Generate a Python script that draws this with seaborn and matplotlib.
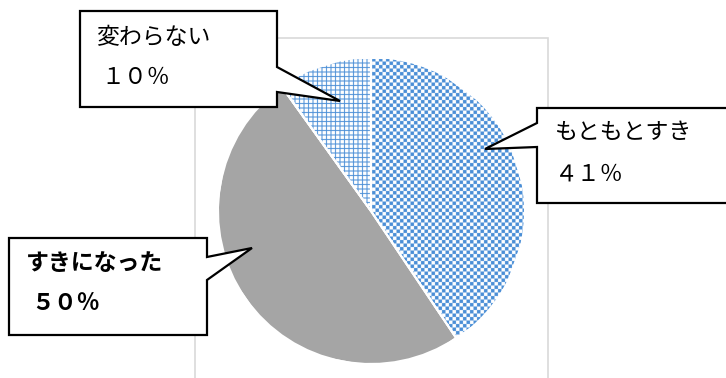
import matplotlib
matplotlib.use("Agg")
import matplotlib.pyplot as plt
from matplotlib.patches import Rectangle, Polygon
import numpy as np
import seaborn as sns

sns.set_theme(style="white")
plt.rcParams["font.family"] = ["Noto Sans CJK JP", "DejaVu Sans"]

# data
categories = ["もともとすき", "すきになった", "変わらない"]
values = [41, 50, 10]
pct_labels = ["４１％", "５０％", "１０％"]

BLUE = "#4A8ED6"
GRAY = "#A5A5A5"

W, H = 726, 378
fig = plt.figure(figsize=(W / 100, H / 100), dpi=100)
ax = fig.add_axes([0, 0, 1, 1])

# light chart frame
ax.add_patch(Rectangle((195, -5), 353, H - 38 + 5, fill=False, ec="#D9D9D9", lw=1.2))

cx, cy, r = 371, H - 211, 153
wedges, _ = ax.pie(values, startangle=90, counterclock=False, center=(cx, cy),
                   radius=r, colors=[BLUE, GRAY, "white"], frame=True,
                   wedgeprops=dict(edgecolor="white", linewidth=1.5))

# checkerboard fill for the first slice, grid fill for the third
# (pattern built at half-pixel resolution)
n = 4 * r
yy, xx = np.indices((n, n))
blue_rgb = np.array(matplotlib.colors.to_rgb(BLUE))
checker = ((xx // 7 + yy // 7) % 2 == 0)
img1 = np.where(checker[..., None], blue_rgb, 1.0)
grid = (xx % 9 < 2) | (yy % 9 < 2)
img3 = np.where(grid[..., None], blue_rgb, 1.0)
extent = (cx - r, cx + r, cy - r, cy + r)
for img, w in [(img1, wedges[0]), (img3, wedges[2])]:
    im = ax.imshow(img, extent=extent, interpolation="antialiased", zorder=w.get_zorder() + 0.1)
    im.set_clip_path(w)
# white separators on top
for w in wedges:
    ax.add_patch(Polygon(w.get_path().vertices, closed=True, fill=False,
                         ec="white", lw=1.5, zorder=3))

ax.set_xlim(0, W)
ax.set_ylim(0, H)
ax.set_aspect("equal")
ax.set_axis_off()


def callout(pts, texts, bold=False):
    poly = [(x, H - y) for x, y in pts]
    ax.add_patch(Polygon(poly, closed=True, fc="white", ec="black", lw=1.6, zorder=5))
    for (tx, ty, s) in texts:
        ax.text(tx, H - ty, s, fontsize=16.5, va="center", ha="left", zorder=6,
                fontweight="bold" if bold else "normal", color="black")


# 変わらない
callout([(80, 11), (277, 11), (277, 67), (340, 101), (277, 92), (277, 107), (80, 107)],
        [(96, 37, categories[2]), (101, 77, pct_labels[2])])
# もともとすき
callout([(537, 108), (740, 108), (740, 203), (537, 203), (537, 147), (485, 149), (537, 123)],
        [(555, 133, categories[0]), (555, 174, pct_labels[0])])
# すきになった
callout([(9, 238), (207, 238), (207, 257), (252, 248), (207, 280), (207, 335), (9, 335)],
        [(26, 264, categories[1]), (31, 304, pct_labels[1])], bold=True)

fig.savefig("out.png", dpi=100)
